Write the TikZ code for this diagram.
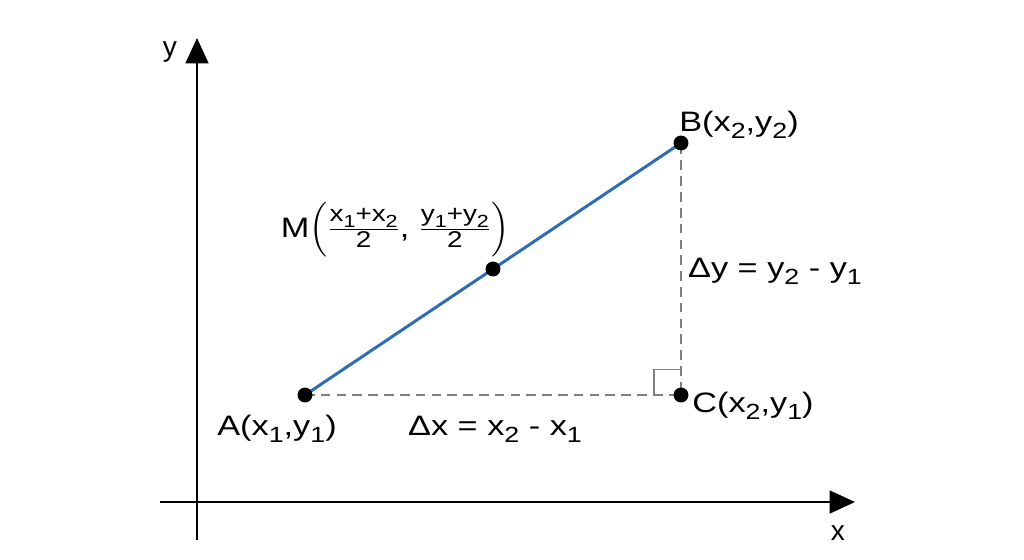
\documentclass[tikz,border=0pt]{standalone}
\usepackage{amsmath}
\usepackage{fontspec}
\setmainfont{Liberation Sans}[FakeStretch=1.22]
\newfontfamily\axisfont{Liberation Sans}
\usetikzlibrary{arrows.meta}
\definecolor{segblue}{RGB}{46,109,180}
\definecolor{guidegray}{RGB}{128,128,128}
\newcommand{\sbs}[1]{\raisebox{-0.28em}{\fontsize{12.5}{14}\selectfont#1}}
\newcommand{\fsbs}[1]{\raisebox{-0.25em}{\fontsize{10}{11}\selectfont#1}}
\newcommand{\fpart}[1]{\mbox{\fontsize{13}{14}\selectfont#1}}

\begin{document}
\begin{tikzpicture}[x=0.02cm,y=-0.02cm,
    every node/.style={inner sep=0pt, font=\fontsize{16}{19}\selectfont},
    axis/.style={line width=1.4pt, -{Triangle[length=14.5pt,width=13pt]}},
    axislabel/.style={font=\axisfont\fontsize{16}{19}\selectfont, anchor=base},
    seg/.style={line width=1.7pt, segblue},
    guide/.style={line width=1.4pt, guidegray, dash pattern=on 5.5pt off 3.5pt},
    dot/.style={circle, fill=black, minimum size=8.5pt},
    lab/.style={anchor=base}]
\useasboundingbox (0,0) rectangle (1024,559);
\coordinate (xstart) at (160,502);
\coordinate (xend) at (855,502);
\coordinate (ystart) at (197,540);
\coordinate (yend) at (197,38);
\coordinate (A) at (305,395);
\coordinate (B) at (681,143);
\coordinate (C) at (681,395);
\coordinate (M) at (493,269);
\draw[axis] (xstart) -- (xend);
\draw[axis] (ystart) -- (yend);
\node[axislabel] (xlab) at (838,540) {x};
\node[axislabel] (ylab) at (170,56) {y};
\draw[guide] (A) -- (C) -- (B);
\draw[guidegray, line width=1pt] ([xshift=-15.3pt]C) |- ([yshift=14.5pt]C);
\draw[seg] (A) -- (B);
\node[dot] (dotA) at (A) {};
\node[dot] (dotB) at (B) {};
\node[dot] (dotC) at (C) {};
\node[dot] (dotM) at (M) {};
\node[lab] (Alab) at (277,435) {A(x\sbs{1},y\sbs{1})};
\node[lab] (Blab) at (739,131) {B(x\sbs{2},y\sbs{2})};
\node[lab] (Clab) at (753,412) {C(x\sbs{2},y\sbs{1})};
\node[lab] (dxlab) at (495,435) {Δx = x\sbs{2} - x\sbs{1}};
\node[lab] (dylab) at (775,277) {Δy = y\sbs{2} - y\sbs{1}};
\node[lab] (Mlab) at (395,237) {M$\left(\frac{\fpart{x\fsbs{1}+x\fsbs{2}}}{\fpart{2}}\mbox{, }\frac{\fpart{y\fsbs{1}+y\fsbs{2}}}{\fpart{2}}\right)$};
\end{tikzpicture}
\end{document}
